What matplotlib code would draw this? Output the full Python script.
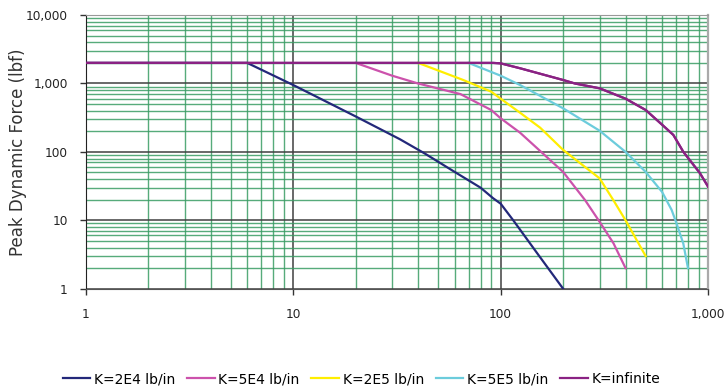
# Peak dynamic force vs. velocity for several stiffness values (log-log)

import matplotlib
matplotlib.use('Agg')
import matplotlib.pyplot as plt
import matplotlib.ticker as ticker

# K = 2E4 lb/in
x_2e4 = [1, 6, 10, 20, 32.7, 43, 60, 80, 92, 100, 115, 150, 200]
f_2e4 = [2000, 2000, 950, 330, 153, 95, 51, 30, 21, 17.5, 10, 3.3, 1]

# K = 5E4 lb/in
x_5e4 = [20, 30, 40, 64, 90, 100, 124, 200, 255, 300, 350, 400]
f_5e4 = [2000, 1300, 1000, 700, 410, 310, 191, 51, 19.8, 9.5, 4.6, 2]

# K = 2E5 lb/in
x_2e5 = [40, 66, 90, 100, 124, 155, 200, 300, 349, 400, 500]
f_2e5 = [2000, 1125, 760, 600, 374, 226, 107, 41, 19.8, 10, 3]

# K = 5E5 lb/in
x_5e5 = [70, 100, 124, 200, 300, 400, 500, 600, 667, 700, 759, 800]
f_5e5 = [2000, 1300, 950, 434, 204, 100, 51, 26, 14.2, 9.5, 4.6, 2]

# K = infinite
x_inf = [1, 92, 100, 124, 200, 228, 300, 400, 500, 600, 680, 760, 913, 1000]
f_inf = [2000, 2000, 1970, 1670, 1125, 1000, 850, 600, 410, 250, 177, 100, 49, 31]

labels = ['K=2E4 lb/in', 'K=5E4 lb/in', 'K=2E5 lb/in', 'K=5E5 lb/in', 'K=infinite']
colors = ['#23287a', '#cc52ac', '#ffee00', '#6cccdc', '#8a2283']

fig = plt.figure(figsize=(7.27, 3.92), dpi=100)
ax = fig.add_axes([0.118, 0.2635, 0.856, 0.698])

series = [(x_2e4, f_2e4), (x_5e4, f_5e4), (x_2e5, f_2e5), (x_5e5, f_5e5), (x_inf, f_inf)]
for (xs, ys), lab, col in zip(series, labels, colors):
    ax.plot(xs, ys, color=col, lw=1.6, label=lab, zorder=3)

# redraw the infinite case on top so the shared flat section stays purple
ax.plot(x_inf, f_inf, color=colors[4], lw=1.6, zorder=4)

ax.set_xscale('log')
ax.set_yscale('log')
ax.set_xlim(1, 1000)
ax.set_ylim(1, 10000)

fmt = ticker.FuncFormatter(lambda v, p: '{:,.0f}'.format(v))
ax.xaxis.set_major_formatter(fmt)
ax.yaxis.set_major_formatter(fmt)
ax.xaxis.set_minor_locator(ticker.LogLocator(base=10, subs=range(2, 10)))
ax.yaxis.set_minor_locator(ticker.LogLocator(base=10, subs=range(2, 10)))
ax.xaxis.set_minor_formatter(ticker.NullFormatter())
ax.yaxis.set_minor_formatter(ticker.NullFormatter())

ax.grid(which='minor', color='#3a9c64', lw=1.0, alpha=0.85, zorder=1)
ax.grid(which='major', color='#404040', lw=1.1, zorder=2)
ax.set_axisbelow(True)

ax.tick_params(which='major', direction='out', length=4, width=1, color='#333333',
               labelsize=8.7, labelcolor='#222222')
ax.tick_params(axis='y', pad=9)
ax.tick_params(axis='x', pad=10)
ax.tick_params(which='minor', length=0)

ax.spines['left'].set_color('#222222')
ax.spines['bottom'].set_color('#555555')
ax.spines['top'].set_color('#999999')
ax.spines['right'].set_color('#aaaaaa')
ax.spines['right'].set_linewidth(1.6)

ax.set_ylabel('Peak Dynamic Force (lbf)', fontsize=12, color='#333333')
ax.yaxis.set_label_coords(-0.095, 0.5)

handles, labs = ax.get_legend_handles_labels()
fig.legend(handles, labs, loc='center', bbox_to_anchor=(0.497, 0.033), ncol=5,
           frameon=False, fontsize=10, handlelength=2.0, handletextpad=0.25,
           columnspacing=0.85)

fig.savefig('out.png', dpi=100)
